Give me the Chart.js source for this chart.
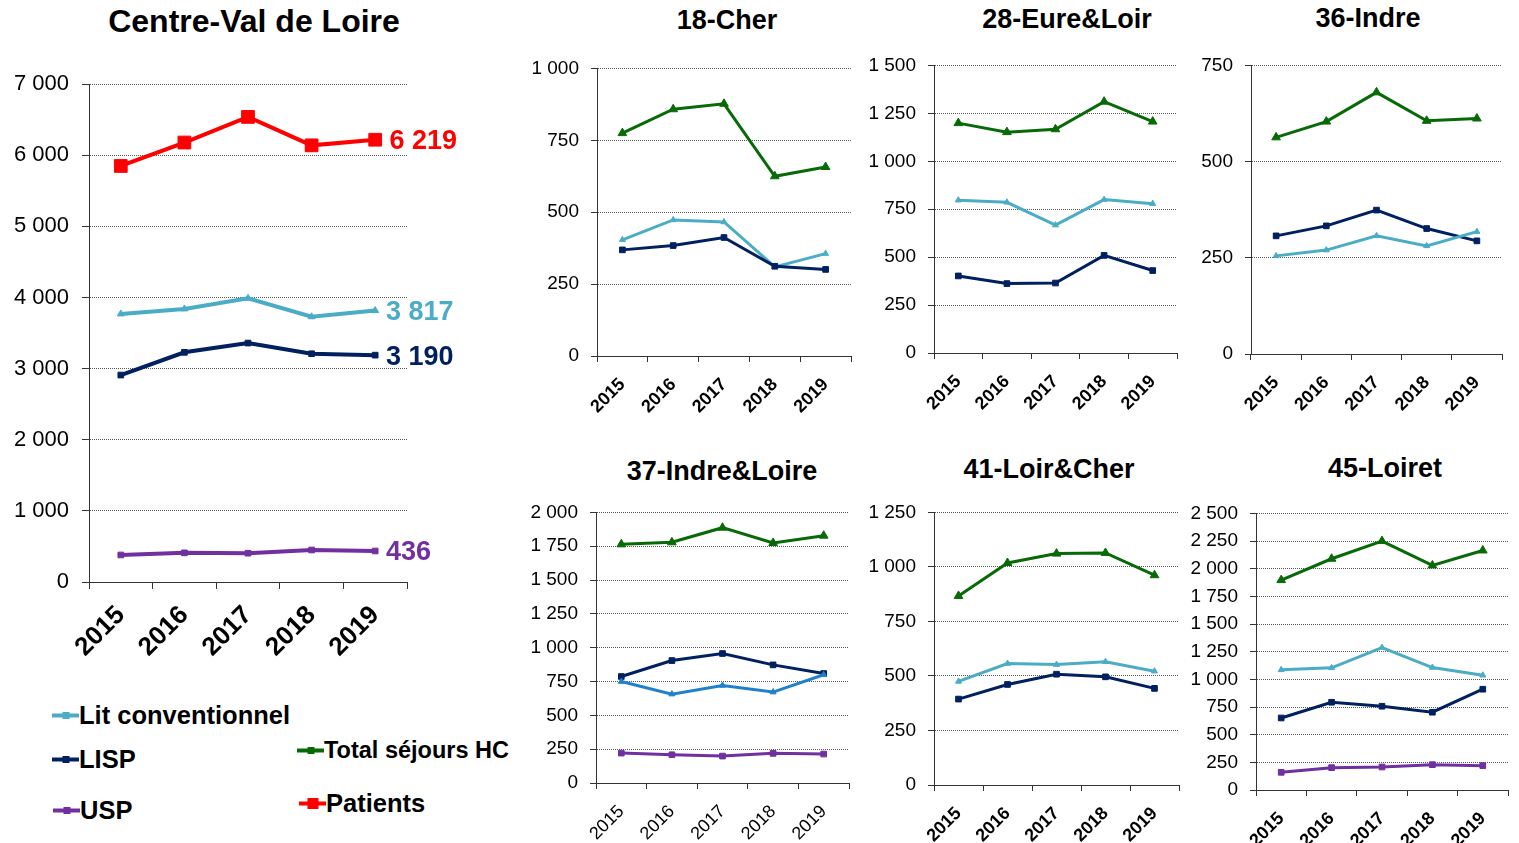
<!DOCTYPE html>
<html>
<head>
<meta charset="utf-8">
<title>Centre-Val de Loire</title>
<script src="https://cdn.jsdelivr.net/npm/chart.js@4.4.1/dist/chart.umd.min.js"></script>
<style>
  body { margin: 0; background: #fff; }
  #page { position: relative; width: 1519px; height: 843px; overflow: hidden; font-family: "Liberation Sans", Arial, sans-serif; }
  canvas { position: absolute; }
  .ttl { position: absolute; font-weight: bold; color: #000; white-space: nowrap; transform: translate(-50%, -50%); }
  .leg { position: absolute; display: flex; align-items: center; transform: translateY(-50%);
         font: bold 25.5px "Liberation Sans", Arial, sans-serif; color: #000; white-space: nowrap; }
  .leg i { position: relative; display: inline-block; width: 27px; height: 4px; }
  .leg i b { position: absolute; left: 50%; top: 50%; width: 7px; height: 7px; transform: translate(-50%, -50%); background: inherit; }
</style>
</head>
<body>
<div id="page">
  <div class="ttl" style="left:254px; top:21px; font-size:32px;">Centre-Val de Loire</div>
  <div class="ttl" style="left:727px; top:20px; font-size:27px;">18-Cher</div>
  <div class="ttl" style="left:1067px; top:19px; font-size:27px;">28-Eure&amp;Loir</div>
  <div class="ttl" style="left:1368px; top:18px; font-size:27px;">36-Indre</div>
  <div class="ttl" style="left:722px; top:471px; font-size:27px;">37-Indre&amp;Loire</div>
  <div class="ttl" style="left:1049px; top:469px; font-size:27px;">41-Loir&amp;Cher</div>
  <div class="ttl" style="left:1385px; top:468px; font-size:27px;">45-Loiret</div>

  <canvas id="cvl"></canvas>
  <canvas id="cher"></canvas>
  <canvas id="eure"></canvas>
  <canvas id="indre"></canvas>
  <canvas id="indreLoire"></canvas>
  <canvas id="loirCher"></canvas>
  <canvas id="loiret"></canvas>

  <div id="legend"></div>
</div>

<script>
const years = ['2015', '2016', '2017', '2018', '2019'];
const seriesNames = ['Lit conventionnel', 'LISP', 'USP', 'Total séjours HC', 'Patients'];

// Centre-Val de Loire (region)
const cvlPatients = [5850, 6180, 6540, 6140, 6219];
const cvlLit = [3770, 3840, 3990, 3730, 3817];
const cvlLisp = [2910, 3230, 3360, 3210, 3190];
const cvlUsp = [380, 410, 405, 450, 436];

// 18-Cher
const cherTotal = [775, 858, 877, 625, 657];
const cherLit = [404, 473, 466, 310, 356];
const cherLisp = [369, 384, 412, 312, 301];

// 28-Eure&Loir
const eureTotal = [1199, 1152, 1167, 1311, 1207];
const eureLit = [797, 786, 667, 800, 779];
const eureLisp = [402, 362, 365, 509, 430];

// 36-Indre
const indreTotal = [563, 604, 680, 606, 612];
const indreLit = [255, 270, 307, 281, 318];
const indreLisp = [307, 333, 374, 326, 294];

// 37-Indre&Loire
const indreLoireTotal = [1764, 1779, 1887, 1774, 1828];
const indreLoireLit = [750, 657, 721, 672, 800];
const indreLoireLisp = [787, 905, 957, 873, 809];
const indreLoireUsp = [221, 209, 199, 219, 214];

// 41-Loir&Cher
const loirCherTotal = [867, 1018, 1061, 1064, 962];
const loirCherLit = [475, 557, 552, 565, 522];
const loirCherLisp = [394, 461, 508, 496, 443];

// 45-Loiret
const loiretTotal = [1897, 2090, 2250, 2030, 2165];
const loiretLit = [1086, 1104, 1288, 1107, 1037];
const loiretLisp = [651, 793, 757, 703, 911];
const loiretUsp = [160, 202, 208, 229, 220];

const FONT = '"Liberation Sans", Arial, sans-serif';
const C_LIT = '#4BACC6', C_LISP = '#002060', C_USP = '#7030A0', C_TOT = '#076A07', C_PAT = '#FF0000';
const C_LIT37 = '#1F80CC';
const AXIS = '#333333';

// "1 000" style numbers
function fmt(v) {
    var s = String(Math.round(v));
    return s.length > 3 ? s.slice(0, -3) + ' ' + s.slice(-3) : s;
}

function line(label, data, color, shape, r, w) {
    return {
        label: label, data: data,
        borderColor: color, backgroundColor: color,
        pointBackgroundColor: color, pointBorderColor: color,
        pointStyle: shape, pointRadius: r, pointHoverRadius: r, pointBorderWidth: 1,
        borderWidth: w, tension: 0, fill: false
    };
}

// value labels at the end of the region lines
const endLabels = {
    id: 'endLabels',
    afterDatasetsDraw(chart) {
        const ctx = chart.ctx;
        chart.data.datasets.forEach(function (ds, i) {
            const meta = chart.getDatasetMeta(i);
            const pt = meta.data[meta.data.length - 1];
            ctx.save();
            ctx.font = 'bold 27px ' + FONT;
            ctx.fillStyle = ds.borderColor;
            ctx.textBaseline = 'middle';
            ctx.fillText(fmt(ds.data[ds.data.length - 1]), pt.x + ds.pointRadius * 0.707 + 8, pt.y + 2);
            ctx.restore();
        });
    }
};

// g: plot area box + axis sizes; sh compensates the extra top padding Chart.js adds
function panel(id, g, yMax, datasets, opt) {
    const cv = document.getElementById(id);
    const padTop = 16;
    const left = g.L - g.yw, top = g.T - padTop - g.sh;
    const width = g.R - left + g.pr, height = g.B + g.xh - top;
    cv.width = width; cv.height = height;
    cv.style.left = left + 'px'; cv.style.top = top + 'px';
    cv.style.width = width + 'px'; cv.style.height = height + 'px';

    return new Chart(cv, {
        type: 'line',
        data: { labels: years, datasets: datasets },
        plugins: opt.plugins || [],
        options: {
            responsive: false,
            animation: false,
            devicePixelRatio: 1,
            layout: { padding: { top: padTop, right: g.pr, left: 0, bottom: 0 } },
            plugins: { legend: { display: false }, tooltip: { enabled: false }, title: { display: false } },
            scales: {
                x: {
                    offset: true,
                    grid: { drawOnChartArea: false, offset: true, tickLength: opt.tick, color: AXIS },
                    border: { color: AXIS, width: 1 },
                    ticks: {
                        minRotation: 45, maxRotation: 45, autoSkip: false, padding: opt.xPad,
                        color: '#000', font: { family: FONT, size: opt.xSize, weight: opt.xWeight }
                    },
                    afterFit: function (s) { s.height = g.xh; }
                },
                y: {
                    min: 0, max: yMax,
                    grid: { color: '#5a5a5a', lineWidth: 1, tickLength: opt.tick, tickColor: AXIS, tickBorderDash: [] },
                    border: { color: AXIS, width: 1, dash: [1, 1] },
                    ticks: {
                        stepSize: opt.step, padding: opt.yPad, color: '#000',
                        font: { family: FONT, size: opt.ySize },
                        callback: function (v) { return fmt(v); }
                    },
                    afterFit: function (s) { s.width = g.yw; }
                }
            }
        }
    });
}

const big = { tick: 7, xPad: 11, xSize: 26, xWeight: 'bold', ySize: 22, yPad: 13, step: 1000 };
const small = { tick: 6, xPad: 12, xSize: 18, xWeight: 'bold', ySize: 19, yPad: 12, step: 250 };
const small37 = Object.assign({}, small, { xWeight: 'normal' });

panel('cvl', { L: 89, R: 407, T: 83, B: 582, yw: 89, xh: 84, pr: 60, sh: 9 }, 7000, [
    line('USP', cvlUsp, C_USP, 'rect', 4, 4),
    line('LISP', cvlLisp, C_LISP, 'rect', 4, 4),
    line('Lit conventionnel', cvlLit, C_LIT, 'triangle', 4, 4),
    line('Patients', cvlPatients, C_PAT, 'rect', 9, 4)
], Object.assign({ plugins: [endLabels] }, big));

panel('cher', { L: 597, R: 853, T: 67, B: 356, yw: 77, xh: 64, pr: 4, sh: 6 }, 1000, [
    line('LISP', cherLisp, C_LISP, 'rect', 4, 3),
    line('Lit conventionnel', cherLit, C_LIT, 'triangle', 3.5, 3),
    line('Total séjours HC', cherTotal, C_TOT, 'triangle', 5, 3)
], small);

panel('eure', { L: 934, R: 1179, T: 65, B: 353, yw: 74, xh: 64, pr: 4, sh: 7 }, 1500, [
    line('LISP', eureLisp, C_LISP, 'rect', 4, 3),
    line('Lit conventionnel', eureLit, C_LIT, 'triangle', 3.5, 3),
    line('Total séjours HC', eureTotal, C_TOT, 'triangle', 5, 3)
], small);

panel('indre', { L: 1251, R: 1504, T: 65, B: 354, yw: 71, xh: 64, pr: 4, sh: 7 }, 750, [
    line('Lit conventionnel', indreLit, C_LIT, 'triangle', 3.5, 3),
    line('LISP', indreLisp, C_LISP, 'rect', 4, 3),
    line('Total séjours HC', indreTotal, C_TOT, 'triangle', 5, 3)
], small);

panel('indreLoire', { L: 596, R: 851, T: 512, B: 783, yw: 76, xh: 60, pr: 4, sh: 7 }, 2000, [
    line('USP', indreLoireUsp, C_USP, 'rect', 4, 3),
    line('Lit conventionnel', indreLoireLit, C_LIT37, 'triangle', 3.5, 3),
    line('LISP', indreLoireLisp, C_LISP, 'rect', 4, 3),
    line('Total séjours HC', indreLoireTotal, C_TOT, 'triangle', 5, 3)
], small37);

panel('loirCher', { L: 934, R: 1181, T: 512, B: 785, yw: 74, xh: 58, pr: 4, sh: 7 }, 1250, [
    line('LISP', loirCherLisp, C_LISP, 'rect', 4, 3),
    line('Lit conventionnel', loirCherLit, C_LIT, 'triangle', 3.5, 3),
    line('Total séjours HC', loirCherTotal, C_TOT, 'triangle', 5, 3)
], small);

panel('loiret', { L: 1256, R: 1510, T: 513, B: 790, yw: 76, xh: 53, pr: 4, sh: 7 }, 2500, [
    line('USP', loiretUsp, C_USP, 'rect', 4, 3),
    line('LISP', loiretLisp, C_LISP, 'rect', 4, 3),
    line('Lit conventionnel', loiretLit, C_LIT, 'triangle', 3.5, 3),
    line('Total séjours HC', loiretTotal, C_TOT, 'triangle', 5, 3)
], small);

// legend (bottom left)
const legendPos = [
    { x: 52, y: 715, color: C_LIT },
    { x: 52, y: 759, color: C_LISP },
    { x: 53, y: 810, color: C_USP },
    { x: 297, y: 750, color: C_TOT, size: 23.5 },
    { x: 299, y: 803, color: C_PAT, big: true }
];
const legend = document.getElementById('legend');
seriesNames.forEach(function (name, i) {
    const p = legendPos[i];
    const d = document.createElement('div');
    d.className = 'leg';
    d.style.left = p.x + 'px';
    d.style.top = p.y + 'px';
    if (p.size) d.style.fontSize = p.size + 'px';
    const mk = p.big ? '<b style="width:11px;height:11px"></b>' : '<b></b>';
    d.innerHTML = '<i style="background:' + p.color + '">' + mk + '</i>' + name;
    legend.appendChild(d);
});
</script>
</body>
</html>
